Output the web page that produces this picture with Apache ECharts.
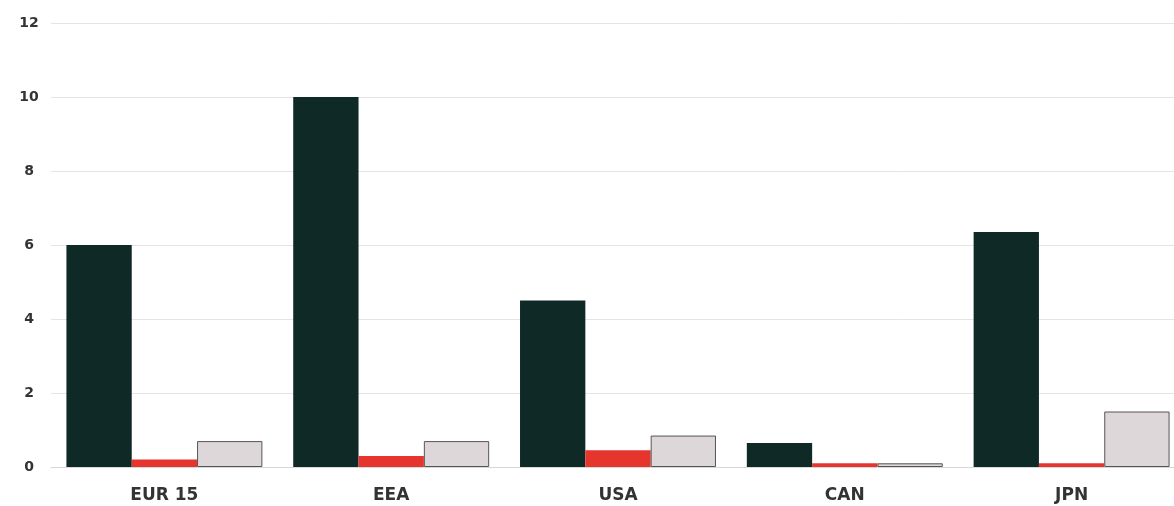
<!DOCTYPE html>
<html>
<head>
<meta charset="utf-8">
<script src="https://cdn.jsdelivr.net/npm/echarts@6/dist/echarts.min.js"></script>
<style>html,body{margin:0;padding:0;background:#fff;overflow:hidden;width:1174px;height:506px}#c{width:1190px;height:506px}</style>
</head>
<body>
<div id="c"></div>
<script>
const categories = ["EUR 15", "EEA", "USA", "CAN", "JPN"];
const seriesDark = [6.0, 10.0, 4.5, 0.65, 6.35];
const seriesRed = [0.2, 0.3, 0.45, 0.1, 0.1];
const seriesGrey = [0.7, 0.7, 0.85, 0.1, 1.5];
const yTicks = [0, 2, 4, 6, 8, 10, 12];

const chart = echarts.init(document.getElementById('c'));
chart.setOption({
  animation: false,
  backgroundColor: '#fff',
  grid: { left: 51, right: 5, top: 23, bottom: 39 },
  xAxis: {
    type: 'category',
    data: categories,
    axisTick: { show: false },
    axisLine: { show: true, lineStyle: { color: '#d8d8d8', width: 1 } },
    axisLabel: { margin: 20, fontSize: 17, fontWeight: 'bold', color: '#333', fontFamily: 'DejaVu Sans' }
  },
  yAxis: {
    type: 'value',
    min: 0, max: 12, interval: 2,
    axisLine: { show: false },
    axisTick: { show: false },
    splitLine: { lineStyle: { color: '#e4e4e4', width: 1 } },
    axisLabel: { margin: 22, align: 'center', fontSize: 14, fontWeight: 'bold', color: '#333', fontFamily: 'DejaVu Sans',
      formatter: v => yTicks.includes(v) ? String(v) : '' }
  },
  series: [
    { type: 'bar', data: seriesDark, barGap: '0%', barCategoryGap: '13.6%',
      itemStyle: { color: '#0f2926' } },
    { type: 'bar', data: seriesRed,
      itemStyle: { color: '#e5352c' } },
    { type: 'bar', data: seriesGrey,
      itemStyle: { color: '#ddd7d9', borderColor: '#555', borderWidth: 1 } }
  ]
});
</script>
</body>
</html>
